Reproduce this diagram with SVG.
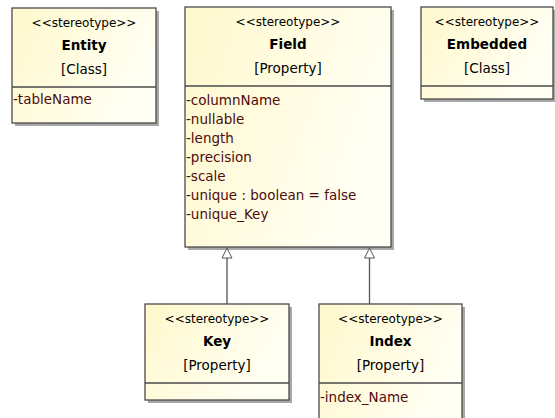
<svg xmlns="http://www.w3.org/2000/svg" width="555" height="418" viewBox="0 0 555 418">
<defs>
<linearGradient id="fill" x1="0" y1="0" x2="1" y2="0.4">
<stop offset="0" stop-color="#FFF8CC"/>
<stop offset="1" stop-color="#FFFFF4"/>
</linearGradient>
<marker id="gen" markerWidth="12" markerHeight="12" refX="6" refY="1" orient="0" markerUnits="userSpaceOnUse">
<path d="M6,1 L11,11 L1,11 Z" fill="#FFFFFF" stroke="#555555" stroke-width="1"/>
</marker>
</defs>
<style>
.shadow{fill:#A8A8A8;}
.box{fill:url(#fill);stroke:#4A4A4A;stroke-width:1.3;}
.div{stroke:#4A4A4A;stroke-width:1.3;}
text{font-family:"DejaVu Sans","Liberation Sans",sans-serif;fill:#000;}
.st{font-size:12px;text-anchor:middle;}
.nm{font-size:13.5px;font-weight:bold;text-anchor:middle;}
.ty{font-size:13.5px;text-anchor:middle;}
.at{font-size:13.5px;fill:#4E0C0C;}
.conn{stroke:#555555;stroke-width:1.3;fill:none;}
</style>

<g id="Entity">
<rect class="shadow" x="15" y="11" width="144" height="115"/>
<rect class="box" x="12" y="8" width="144" height="115"/>
<line class="div" x1="12" y1="87" x2="156" y2="87"/>
<text class="st" x="84" y="27">&lt;&lt;stereotype&gt;&gt;</text>
<text class="nm" x="84" y="50">Entity</text>
<text class="ty" x="84" y="74">[Class]</text>
<text class="at" x="13" y="104">-tableName</text>
</g>

<g id="Field">
<rect class="shadow" x="188" y="10" width="206" height="240"/>
<rect class="box" x="185" y="7" width="206" height="240"/>
<line class="div" x1="185" y1="86" x2="391" y2="86"/>
<text class="st" x="288" y="26">&lt;&lt;stereotype&gt;&gt;</text>
<text class="nm" x="288" y="49">Field</text>
<text class="ty" x="288" y="73">[Property]</text>
<text class="at" x="186" y="105">-columnName</text>
<text class="at" x="186" y="124">-nullable</text>
<text class="at" x="186" y="143">-length</text>
<text class="at" x="186" y="162">-precision</text>
<text class="at" x="186" y="181">-scale</text>
<text class="at" x="186" y="200">-unique : boolean = false</text>
<text class="at" x="186" y="219">-unique_Key</text>
</g>

<g id="Embedded">
<rect class="shadow" x="424" y="10" width="132" height="92"/>
<rect class="box" x="421" y="7" width="132" height="92"/>
<line class="div" x1="421" y1="86" x2="553" y2="86"/>
<text class="st" x="487" y="26">&lt;&lt;stereotype&gt;&gt;</text>
<text class="nm" x="487" y="49">Embedded</text>
<text class="ty" x="487" y="73">[Class]</text>
</g>

<g id="Key">
<rect class="shadow" x="148" y="307" width="144" height="96"/>
<rect class="box" x="145" y="304" width="144" height="96"/>
<line class="div" x1="145" y1="383" x2="289" y2="383"/>
<text class="st" x="217" y="323">&lt;&lt;stereotype&gt;&gt;</text>
<text class="nm" x="217" y="346">Key</text>
<text class="ty" x="217" y="370">[Property]</text>
</g>

<g id="Index">
<rect class="shadow" x="322" y="307" width="143" height="125"/>
<rect class="box" x="319" y="304" width="143" height="125"/>
<line class="div" x1="319" y1="383" x2="462" y2="383"/>
<text class="st" x="390.5" y="323">&lt;&lt;stereotype&gt;&gt;</text>
<text class="nm" x="390.5" y="346">Index</text>
<text class="ty" x="390.5" y="370">[Property]</text>
<text class="at" x="320" y="402">-index_Name</text>
</g>

<g id="connectors">
<line class="conn" x1="227" y1="304" x2="227" y2="248" marker-end="url(#gen)"/>
<line class="conn" x1="369.5" y1="304" x2="369.5" y2="248" marker-end="url(#gen)"/>
</g>
</svg>
